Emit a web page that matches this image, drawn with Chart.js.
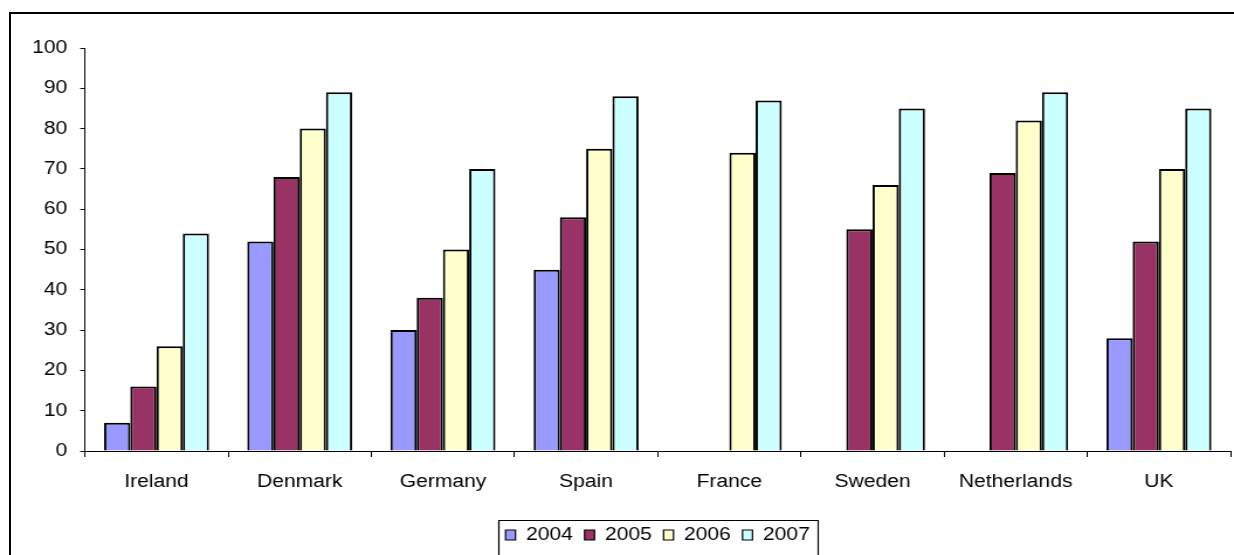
<!DOCTYPE html>
<html>
<head>
<meta charset="utf-8">
<script src="https://cdn.jsdelivr.net/npm/chart.js@4.4.0/dist/chart.umd.min.js"></script>
<style>
    html, body { margin: 0; padding: 0; background: #fff; overflow: hidden; }
    body { width: 1234px; height: 555px; position: relative; }
    /* marco exterior: solo se ven los lados izquierdo y superior */
    #marco {
        position: absolute; left: 9px; top: 12px; width: 1400px; height: 700px;
        border-left: 2px solid #000; border-top: 2px solid #000;
    }
    /* el original esta estirado en horizontal */
    #contenedor {
        position: absolute; left: 0; top: 0; width: 1055px; height: 555px;
        transform: scaleX(1.16967); transform-origin: 0 0;
    }
</style>
</head>
<body>
<div id="marco"></div>
<div id="contenedor"><canvas id="grafico"></canvas></div>
<script>
// Datos
const paises = ['Ireland', 'Denmark', 'Germany', 'Spain', 'France', 'Sweden', 'Netherlands', 'UK'];
const años = ['2004', '2005', '2006', '2007'];
const valores2004 = [7, 52, 30, 45, null, null, null, 28];
const valores2005 = [16, 68, 38, 58, null, 55, 69, 52];
const valores2006 = [26, 80, 50, 75, 74, 66, 82, 70];
const valores2007 = [54, 89, 70, 88, 87, 85, 89, 85];
const colores = ['#9999FF', '#993366', '#FFFFCC', '#CCFFFF'];

const fuente = { family: '"Liberation Sans", Arial, sans-serif', size: 18 };

// Recuadro alrededor de la leyenda
const bordeLeyenda = {
    id: 'bordeLeyenda',
    afterDraw(chart) {
        const cajas = chart.legend.legendHitBoxes;
        if (!cajas || !cajas.length) return;
        const ultima = cajas[cajas.length - 1];
        const ctx = chart.ctx;
        ctx.save();
        ctx.strokeStyle = '#000';
        ctx.lineWidth = 1.2;
        const x1 = Math.round(cajas[0].left - 6) + 0.5;
        const x2 = Math.round(ultima.left + ultima.width + 7) + 0.5;
        const y1 = Math.round(cajas[0].top - 6) + 0.5;
        ctx.beginPath();
        ctx.moveTo(x1, 600);
        ctx.lineTo(x1, y1);
        ctx.lineTo(x2, y1);
        ctx.lineTo(x2, 600);
        ctx.stroke();
        ctx.restore();
    }
};

const series = [valores2004, valores2005, valores2006, valores2007];

new Chart(document.getElementById('grafico'), {
    type: 'bar',
    data: {
        labels: paises,
        datasets: series.map((datos, i) => ({
            label: años[i],
            data: datos,
            backgroundColor: colores[i],
            borderColor: '#000',
            borderWidth: 2,
            borderSkipped: 'bottom',
            categoryPercentage: 0.733,
            barPercentage: 1
        }))
    },
    options: {
        responsive: true,
        maintainAspectRatio: false,
        animation: false,
        layout: { padding: { left: 0, right: 3, top: 48, bottom: 1 } },
        plugins: {
            tooltip: { enabled: false },
            legend: {
                position: 'bottom',
                fullSize: false,
                labels: {
                    font: fuente,
                    color: '#000',
                    boxWidth: 8.5,
                    boxHeight: 10,
                    padding: 10,
                    generateLabels: (chart) => chart.data.datasets.map((ds, i) => ({
                        text: ds.label,
                        fillStyle: ds.backgroundColor,
                        strokeStyle: '#000',
                        lineWidth: 1.2,
                        fontColor: '#000',
                        datasetIndex: i
                    }))
                }
            }
        },
        scales: {
            x: {
                grid: { drawOnChartArea: false, drawTicks: true, tickLength: 6, color: '#000', offset: true },
                border: { display: true, color: '#000', width: 1 },
                ticks: { font: fuente, color: '#000', padding: 14, maxRotation: 0 },
                afterFit: (escala) => { escala.height = 65; }
            },
            y: {
                min: 0,
                max: 100,
                grid: { drawOnChartArea: false, drawTicks: true, tickLength: 4, color: '#000' },
                border: { display: true, color: '#000', width: 1 },
                ticks: { font: fuente, color: '#000', stepSize: 10, padding: 11 },
                afterFit: (escala) => { escala.width = 72.6; }
            }
        }
    },
    plugins: [bordeLeyenda]
});
</script>
</body>
</html>
